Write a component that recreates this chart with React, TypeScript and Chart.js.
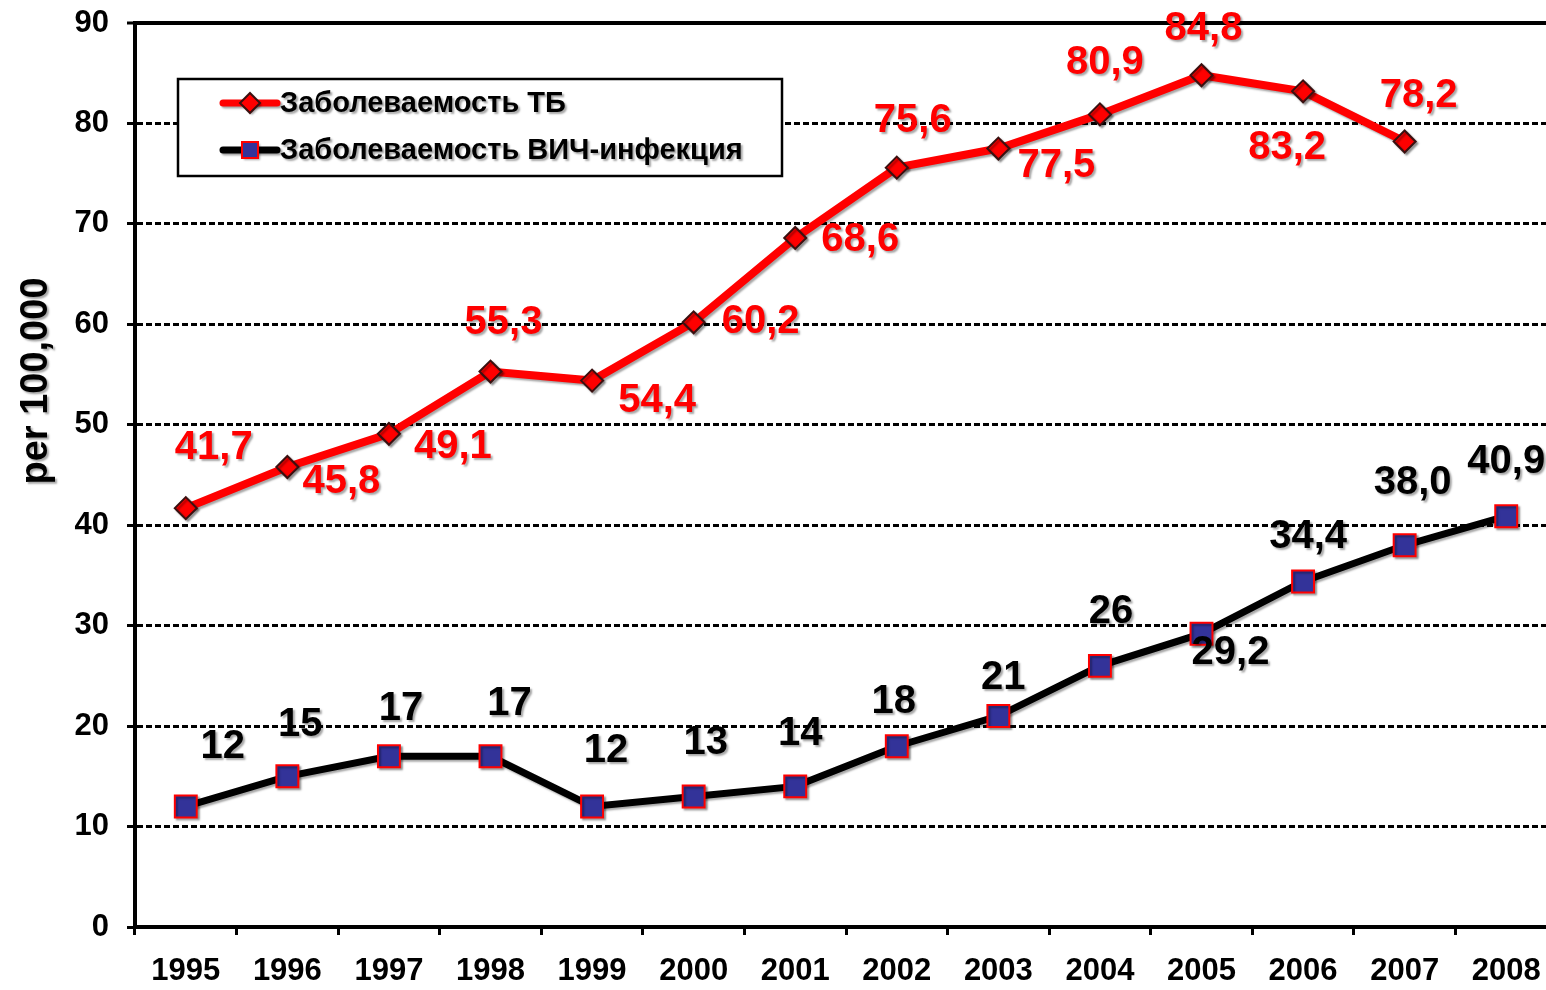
import React, { useEffect, useRef } from "react";
import { Chart, registerables } from "chart.js";

Chart.register(...registerables);

const years = ["1995", "1996", "1997", "1998", "1999", "2000", "2001", "2002", "2003", "2004", "2005", "2006", "2007", "2008"];
const tbIncidence: (number | null)[] = [41.7, 45.8, 49.1, 55.3, 54.4, 60.2, 68.6, 75.6, 77.5, 80.9, 84.8, 83.2, 78.2, null];
const hivIncidence: number[] = [12, 15, 17, 17, 12, 13, 14, 18, 21, 26, 29.2, 34.4, 38.0, 40.9];
const hivLabels = ["12", "15", "17", "17", "12", "13", "14", "18", "21", "26", "29,2", "34,4", "38,0", "40,9"];
const yTicks = [0, 10, 20, 30, 40, 50, 60, 70, 80, 90];

const tbName = "Заболеваемость ТБ";
const hivName = "Заболеваемость ВИЧ-инфекция";
const yTitle = "per 100,000";

// label placement (pixel offsets of label centre from the point)
const tbLabelDx = [28, 54, 64, 13, 65, 67, 65, 16, 58, 5, 2, -16, 14, 0];
const tbLabelDy = [-60, 15, 13, -49, 20, 0, 2, -47, 17, -51, -46, 57, -46, 0];
const hivLabelDx = [37, 13, 12, 19, 14, 12, 5, -3, 5, 11, 29, 5, 8, 0];
const hivLabelDy = [-59, -51, -47, -52, -55, -53, -52, -44, -38, -54, 19, -45, -62, -54];

const FONT = "'Liberation Sans', Arial, Helvetica, sans-serif";
const RED = "#ff0000";
const NAVY = "#333399";

function setShadow(ctx: CanvasRenderingContext2D) {
  ctx.shadowColor = "rgba(0,0,0,0.35)";
  ctx.shadowOffsetX = 2;
  ctx.shadowOffsetY = 2;
  ctx.shadowBlur = 2;
}

const decorPlugin = {
  id: "decor",
  beforeDatasetsDraw(chart: any) {
    const ctx = chart.ctx as CanvasRenderingContext2D;
    ctx.save();
    setShadow(ctx);
  },
  afterDatasetsDraw(chart: any) {
    const ctx = chart.ctx as CanvasRenderingContext2D;
    ctx.restore();

    // data labels
    ctx.save();
    setShadow(ctx);
    ctx.font = `bold 40px ${FONT}`;
    ctx.textAlign = "center";
    ctx.textBaseline = "middle";
    const tbMeta = chart.getDatasetMeta(0);
    tbMeta.data.forEach((pt: any, i: number) => {
      const v = tbIncidence[i];
      if (v == null) return;
      ctx.fillStyle = RED;
      ctx.fillText(v.toFixed(1).replace(".", ","), pt.x + tbLabelDx[i], pt.y + tbLabelDy[i]);
    });
    const hivMeta = chart.getDatasetMeta(1);
    hivMeta.data.forEach((pt: any, i: number) => {
      ctx.fillStyle = "#000";
      ctx.fillText(hivLabels[i], pt.x + hivLabelDx[i], pt.y + hivLabelDy[i]);
    });
    ctx.restore();

    // legend
    const { left, top } = chart.chartArea;
    ctx.save();
    ctx.fillStyle = "#fff";
    ctx.fillRect(left + 43, top + 56, 604, 97);
    ctx.lineWidth = 2.5;
    ctx.strokeStyle = "#000";
    ctx.strokeRect(left + 43, top + 56, 604, 97);
    const items = [
      { name: tbName, y: top + 80, line: RED, marker: "diamond" },
      { name: hivName, y: top + 127, line: "#000", marker: "square" },
    ];
    items.forEach((it) => {
      ctx.save();
      setShadow(ctx);
      ctx.strokeStyle = it.line;
      ctx.lineWidth = 7;
      ctx.lineCap = "round";
      ctx.beginPath();
      ctx.moveTo(left + 88, it.y);
      ctx.lineTo(left + 142, it.y);
      ctx.stroke();
      const mx = left + 115;
      if (it.marker === "diamond") {
        ctx.beginPath();
        ctx.moveTo(mx, it.y - 10);
        ctx.lineTo(mx + 10, it.y);
        ctx.lineTo(mx, it.y + 10);
        ctx.lineTo(mx - 10, it.y);
        ctx.closePath();
        ctx.fillStyle = RED;
        ctx.fill();
        ctx.shadowColor = "transparent";
        ctx.lineWidth = 2;
        ctx.strokeStyle = "#3a1010";
        ctx.stroke();
      } else {
        ctx.fillStyle = NAVY;
        ctx.fillRect(mx - 8, it.y - 8, 16, 16);
        ctx.shadowColor = "transparent";
        ctx.lineWidth = 2;
        ctx.strokeStyle = RED;
        ctx.strokeRect(mx - 8, it.y - 8, 16, 16);
      }
      ctx.restore();
      ctx.save();
      setShadow(ctx);
      ctx.fillStyle = "#000";
      ctx.font = `bold 29px ${FONT}`;
      ctx.textAlign = "left";
      ctx.textBaseline = "middle";
      ctx.fillText(it.name, left + 145, it.y + 1);
      ctx.restore();
    });
    ctx.restore();

    // y-axis title
    ctx.save();
    setShadow(ctx);
    ctx.translate(37, 381);
    ctx.rotate(-Math.PI / 2);
    ctx.font = `bold 38px ${FONT}`;
    ctx.fillStyle = "#000";
    ctx.textAlign = "center";
    ctx.textBaseline = "middle";
    ctx.fillText(yTitle, 0, 0);
    ctx.restore();
  },
};

export default function App() {
  const canvasRef = useRef<HTMLCanvasElement | null>(null);

  useEffect(() => {
    document.body.style.margin = "0";
    const canvas = canvasRef.current;
    if (!canvas) return;
    const chart = new Chart(canvas, {
      type: "line",
      data: {
        labels: years,
        datasets: [
          {
            label: tbName,
            data: tbIncidence,
            borderColor: RED,
            borderWidth: 8,
            backgroundColor: RED,
            pointStyle: "rectRot",
            pointRadius: 11,
            pointBackgroundColor: RED,
            pointBorderColor: "#3a1010",
            pointBorderWidth: 2,
            tension: 0,
            spanGaps: false,
          },
          {
            label: hivName,
            data: hivIncidence,
            borderColor: "#000",
            borderWidth: 7,
            backgroundColor: NAVY,
            pointStyle: "rect",
            pointRadius: 15.5,
            pointBackgroundColor: NAVY,
            pointBorderColor: RED,
            pointBorderWidth: 2,
            tension: 0,
          },
        ],
      },
      options: {
        animation: false,
        responsive: false,
        maintainAspectRatio: false,
        layout: { padding: { left: 0, top: 23, right: 23, bottom: 0 } },
        plugins: {
          legend: { display: false },
          tooltip: { enabled: false },
          title: { display: false },
        },
        scales: {
          x: {
            type: "category",
            offset: true,
            grid: {
              offset: true,
              drawOnChartArea: false,
              drawTicks: true,
              tickLength: 8,
              tickWidth: 3,
              tickColor: "#000",
            },
            border: { display: true, color: "#000", width: 4 },
            ticks: {
              color: "#000",
              font: { family: FONT, size: 31, weight: "bold" },
              padding: 18,
              maxRotation: 0,
              autoSkip: false,
            },
            afterFit: (scale: any) => {
              scale.height = 63;
              scale.paddingLeft = 0;
              scale.paddingRight = 0;
            },
          },
          y: {
            type: "linear",
            min: 0,
            max: 90,
            afterBuildTicks: (scale: any) => {
              scale.ticks = yTicks.map((v) => ({ value: v }));
            },
            grid: {
              color: (c: any) => (c.tick && c.tick.value === 0 ? "rgba(0,0,0,0)" : "#000"),
              lineWidth: (c: any) => (c.tick && c.tick.value === 90 ? 4 : 3),
              drawTicks: true,
              tickLength: 8,
              tickWidth: 3,
              tickColor: "#000",
            },
            border: {
              display: true,
              color: "#000",
              width: 4,
              dash: (c: any) => (c.tick && c.tick.value !== 90 ? [6, 3] : []),
            },
            ticks: {
              color: "#000",
              font: { family: FONT, size: 31, weight: "bold" },
              padding: 18,
            },
            afterFit: (scale: any) => {
              scale.width = 135;
              scale.paddingTop = 0;
              scale.paddingBottom = 0;
            },
          },
        },
      },
      plugins: [decorPlugin],
    } as any);
    return () => {
      chart.destroy();
    };
  }, []);

  return (
    <div style={{ position: "fixed", left: 0, top: 0, width: 1546, height: 990, overflow: "hidden", background: "#fff" }}>
      <canvas ref={canvasRef} width={1580} height={990} style={{ width: 1580, height: 990, display: "block" }} />
    </div>
  );
}
